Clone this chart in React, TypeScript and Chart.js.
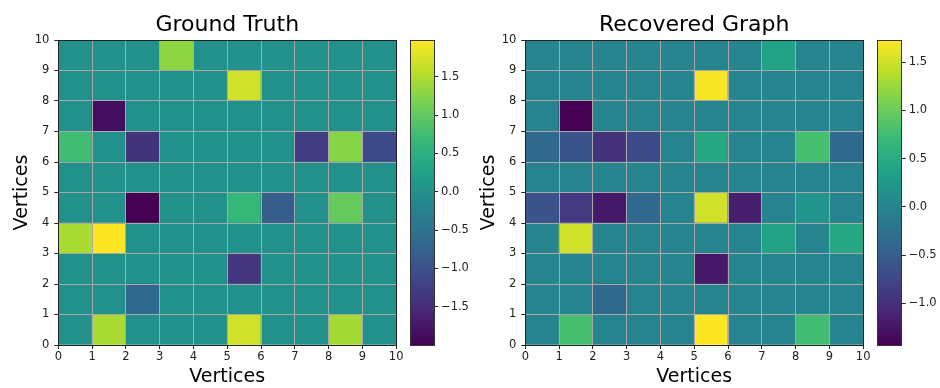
import React, { useEffect, useRef } from "react";
import { Chart, registerables } from "chart.js";

Chart.register(...registerables);

const FONT = "'DejaVu Sans', 'Liberation Sans', sans-serif";

// ---------- data ----------
const vertexTicks = [0, 1, 2, 3, 4, 5, 6, 7, 8, 9, 10];
const cellCenters = [0.5, 1.5, 2.5, 3.5, 4.5, 5.5, 6.5, 7.5, 8.5, 9.5];
const axisLabel = "Vertices";
const titles = ["Ground Truth", "Recovered Graph"];

// rows listed from bottom (y 0-1) to top (y 9-10); columns x 0-1 .. 9-10
const groundTruth: number[][] = [
  [0, 1.46, 0, 0, 0, 1.7, 0, 0, 1.44, 0],
  [0, 0, -0.67, 0, 0, 0, 0, 0, 0, 0],
  [0, 0, 0, 0, 0, -1.36, 0, 0, 0, 0],
  [1.46, 1.98, 0, 0, 0, 0, 0, 0, 0, 0],
  [0, 0, -2.0, 0, 0, 0.65, -0.81, 0, 1.02, 0],
  [0, 0, 0, 0, 0, 0, 0, 0, 0, 0],
  [0.75, 0, -1.4, 0, 0, 0, 0, -1.28, 1.26, -1.12],
  [0, -1.84, 0, 0, 0, 0, 0, 0, 0, 0],
  [0, 0, 0, 0, 0, 1.7, 0, 0, 0, 0],
  [0, 0, 0, 1.3, 0, 0, 0, 0, 0, 0],
];

const recovered: number[][] = [
  [0, 0.78, 0, 0, 0, 1.73, 0, 0, 0.75, 0],
  [0, 0, -0.38, 0, 0, 0, 0, 0, 0, 0],
  [0, 0, 0, 0, 0, -1.21, 0, 0, 0, 0],
  [0, 1.51, 0, 0, 0, 0, 0, 0.39, 0, 0.45],
  [-0.61, -0.89, -1.21, -0.38, 0, 1.51, -1.18, 0, 0.21, 0],
  [0, 0, 0, 0, 0, 0, 0, 0, 0, 0],
  [-0.36, -0.61, -0.96, -0.7, 0, 0.47, 0, 0, 0.78, -0.36],
  [0, -1.43, 0, 0, 0, 0, 0, 0, 0, 0],
  [0, 0, 0, 0, 0, 1.7, 0, 0, 0, 0],
  [0, 0, 0, 0, 0, 0, 0, 0.39, 0, 0],
];

const gtColorbarTicks = [-1.5, -1.0, -0.5, 0.0, 0.5, 1.0, 1.5];
const recColorbarTicks = [-1.0, -0.5, 0.0, 0.5, 1.0, 1.5];

// ---------- colormap ----------
const VIRIDIS = [
  "#440154", "#482878", "#3e4989", "#31688e", "#26828e",
  "#1f9e89", "#35b779", "#6ece58", "#b5de2b", "#fde725",
];
const hexToRgb = (h: string) => [
  parseInt(h.slice(1, 3), 16),
  parseInt(h.slice(3, 5), 16),
  parseInt(h.slice(5, 7), 16),
];
const VIR_RGB = VIRIDIS.map(hexToRgb);
function viridis(t: number): string {
  const tt = Math.max(0, Math.min(1, t)) * (VIR_RGB.length - 1);
  const i = Math.min(VIR_RGB.length - 2, Math.floor(tt));
  const f = tt - i;
  const a = VIR_RGB[i];
  const b = VIR_RGB[i + 1];
  const c = a.map((v, k) => Math.round(v + (b[k] - v) * f));
  return `rgb(${c[0]},${c[1]},${c[2]})`;
}

const fmt = (v: number) => (v < 0 ? "\u2212" : "") + Math.abs(v).toFixed(1);

const framePlugin = (color: string) => ({
  id: "frame",
  afterDraw(chart: any) {
    const { ctx, chartArea } = chart;
    const l = Math.round(chartArea.left - 0.5) + 0.5;
    const t = Math.round(chartArea.top - 0.5) + 0.5;
    const r = Math.round(chartArea.right - 0.5) + 0.5;
    const b = Math.round(chartArea.bottom - 0.5) + 0.5;
    ctx.save();
    ctx.strokeStyle = color;
    ctx.lineWidth = 1;
    ctx.strokeRect(l, t, r - l, b - t);
    ctx.restore();
  },
});

const tickFont = { family: FONT, size: 11.5 };
const GRID = "#a9a9a9";

function Heatmap({ title, values, left }: { title: string; values: number[][]; left: number }) {
  const ref = useRef<HTMLCanvasElement>(null);
  useEffect(() => {
    const flat = values.flat();
    const vmin = Math.min(...flat);
    const vmax = Math.max(...flat);
    const datasets = values.map((row, j) => ({
      label: `row ${j}`,
      data: row.map((_v, i) => ({ x: cellCenters[i], y: [vertexTicks[j], vertexTicks[j + 1]] })),
      backgroundColor: row.map((v) => viridis((v - vmin) / (vmax - vmin))),
      borderWidth: 0,
      barPercentage: 1,
      categoryPercentage: 1,
      grouped: false,
    }));
    const chart = new Chart(ref.current!, {
      type: "bar",
      data: { datasets } as any,
      options: {
        animation: false,
        responsive: false,
        events: [],
        layout: { padding: { left: 0, right: 8.3, top: 0, bottom: 0 } },
        plugins: {
          legend: { display: false },
          tooltip: { enabled: false },
          title: {
            display: true,
            text: title,
            fullSize: false,
            color: "#000",
            font: { family: FONT, size: 22, weight: "normal" },
            padding: { top: 12.2, bottom: 1.4 },
          },
        },
        scales: {
          x: {
            type: "linear",
            min: 0,
            max: 10,
            offset: false,
            afterBuildTicks: (s: any) => {
              s.ticks = vertexTicks.map((v) => ({ value: v }));
            },
            afterFit: (s: any) => {
              s.height = 43;
            },
            ticks: { font: tickFont, color: "#222", padding: 1.5, maxRotation: 0, autoSkip: false },
            grid: {
              color: GRID,
              lineWidth: 1,
              z: 1,
              offset: false,
              drawTicks: true,
              tickLength: 4,
              tickColor: "#222",
            },
            border: { display: false },
            title: {
              display: true,
              text: axisLabel,
              color: "#000",
              font: { family: FONT, size: 19 },
              padding: { top: 0, bottom: 0 },
            },
          },
          y: {
            type: "linear",
            min: 0,
            max: 10,
            afterBuildTicks: (s: any) => {
              s.ticks = vertexTicks.map((v) => ({ value: v }));
            },
            afterFit: (s: any) => {
              s.width = 58.3;
            },
            ticks: { font: tickFont, color: "#222", padding: 5, autoSkip: false },
            grid: {
              color: GRID,
              lineWidth: 1,
              z: 1,
              drawTicks: true,
              tickLength: 4,
              tickColor: "#222",
            },
            border: { display: false },
            title: {
              display: true,
              text: axisLabel,
              color: "#000",
              font: { family: FONT, size: 19 },
              padding: { top: 10.5, bottom: 0 },
            },
          },
        },
      } as any,
      plugins: [framePlugin("#222")],
    });
    return () => chart.destroy();
  }, [title, values]);
  return (
    <canvas
      ref={ref}
      width={405}
      height={388}
      style={{ position: "absolute", left, top: 0, width: 405, height: 388, display: "block" }}
    />
  );
}

function Colorbar({
  values,
  ticks,
  left,
  width,
  padLeft,
  axisWidth,
}: {
  values: number[][];
  ticks: number[];
  left: number;
  width: number;
  padLeft: number;
  axisWidth: number;
}) {
  const ref = useRef<HTMLCanvasElement>(null);
  useEffect(() => {
    const flat = values.flat();
    const vmin = Math.min(...flat);
    const vmax = Math.max(...flat);
    const chart = new Chart(ref.current!, {
      type: "bar",
      data: {
        labels: [""],
        datasets: [
          {
            data: [[vmin, vmax]],
            backgroundColor: (ctx: any) => {
              const area = ctx.chart.chartArea;
              if (!area) return VIRIDIS[4];
              const g = ctx.chart.ctx.createLinearGradient(0, area.bottom, 0, area.top);
              for (let k = 0; k <= 40; k++) g.addColorStop(k / 40, viridis(k / 40));
              return g;
            },
            borderWidth: 0,
            barPercentage: 1,
            categoryPercentage: 1,
          },
        ],
      } as any,
      options: {
        animation: false,
        responsive: false,
        events: [],
        layout: { padding: { left: padLeft, right: 0, top: 40, bottom: 43 } },
        plugins: { legend: { display: false }, tooltip: { enabled: false }, title: { display: false } },
        scales: {
          x: { display: false },
          y: {
            position: "right",
            min: vmin,
            max: vmax,
            afterBuildTicks: (s: any) => {
              s.ticks = ticks.map((v) => ({ value: v }));
            },
            afterFit: (s: any) => {
              s.width = axisWidth;
            },
            ticks: { font: tickFont, color: "#222", padding: 3, callback: (v: any) => fmt(Number(v)) },
            grid: {
              drawOnChartArea: false,
              drawTicks: true,
              tickLength: 4,
              tickColor: "#222",
              color: "#222",
            },
            border: { display: false },
          },
        },
      } as any,
      plugins: [framePlugin("#333")],
    });
    return () => chart.destroy();
  }, [values, ticks]);
  return (
    <canvas
      ref={ref}
      width={width}
      height={388}
      style={{ position: "absolute", left, top: 0, width, height: 388, display: "block" }}
    />
  );
}

export default function App() {
  return (
    <div
      style={{
        position: "absolute",
        left: 0,
        top: 0,
        width: 940,
        height: 388,
        background: "#fff",
        overflow: "hidden",
      }}
    >
      <Heatmap title={titles[0]} values={groundTruth} left={0} />
      <Colorbar values={groundTruth} ticks={gtColorbarTicks} left={400} width={70} padLeft={10} axisWidth={36} />
      <Heatmap title={titles[1]} values={recovered} left={467} />
      <Colorbar values={recovered} ticks={recColorbarTicks} left={867} width={73} padLeft={10.3} axisWidth={38.3} />
    </div>
  );
}
